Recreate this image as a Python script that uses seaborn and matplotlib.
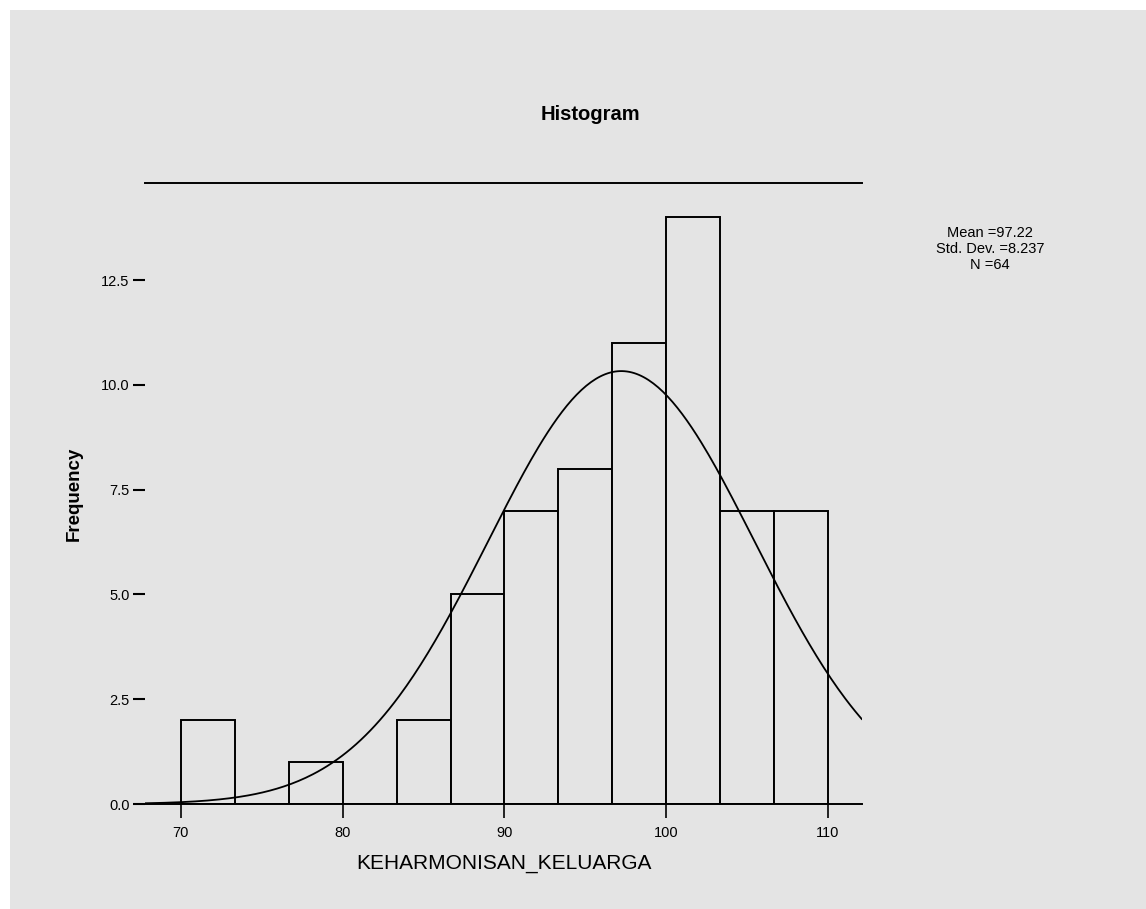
import numpy as np
import pandas as pd
import matplotlib
matplotlib.use('Agg')
import matplotlib.pyplot as plt
import seaborn as sns
from matplotlib.patches import Rectangle

# histogram of KEHARMONISAN_KELUARGA (SPSS output)
bin_edges = [70.0, 73.333, 76.667, 80.0, 83.333, 86.667, 90.0,
             93.333, 96.667, 100.0, 103.333, 106.667, 110.0]
counts = [2, 0, 1, 0, 2, 5, 7, 8, 11, 14, 7, 7]
mean_val = 97.22
std_val = 8.237
n_val = 64
x_ticks = [70, 80, 90, 100, 110]
y_ticks = [0.0, 2.5, 5.0, 7.5, 10.0, 12.5]

bg = '#e4e4e4'

def main():
    centers = [(a + b) / 2 for a, b in zip(bin_edges[:-1], bin_edges[1:])]
    df = pd.DataFrame({'value': centers, 'count': counts})

    sns.set_style('white')
    plt.rcParams['font.family'] = ['Liberation Sans', 'DejaVu Sans']
    plt.rcParams['text.color'] = 'black'
    plt.rcParams['axes.labelcolor'] = 'black'
    plt.rcParams['xtick.color'] = 'black'
    plt.rcParams['ytick.color'] = 'black'

    fig = plt.figure(figsize=(11.46, 9.09), dpi=100)
    fig.patch.set_facecolor(bg)
    # thin white strips at the top and left edge
    fig.patches.append(Rectangle((0, 1 - 10 / 909), 1, 10 / 909, transform=fig.transFigure,
                                 facecolor='white', edgecolor='none', zorder=-5))
    fig.patches.append(Rectangle((0, 0), 10 / 1146, 1, transform=fig.transFigure,
                                 facecolor='white', edgecolor='none', zorder=-5))

    ax = fig.add_axes([145 / 1146, 1 - 804 / 909, (862 - 145) / 1146, (804 - 183) / 909])
    ax.set_facecolor(bg)

    sns.histplot(data=df, x='value', weights='count', bins=bin_edges, ax=ax,
                 color=bg, edgecolor='black', linewidth=1.4, alpha=1)

    xmin, xmax = 67.78, 112.1
    xs = np.linspace(xmin, xmax, 300)
    width = bin_edges[1] - bin_edges[0]
    ys = n_val * width * np.exp(-0.5 * ((xs - mean_val) / std_val) ** 2) / (std_val * np.sqrt(2 * np.pi))
    sns.lineplot(x=xs, y=ys, ax=ax, color='black', linewidth=1.3)

    ax.set_xlim(xmin, xmax)
    ax.set_ylim(0, 14.82)
    ax.set_xticks(x_ticks)
    ax.set_xticklabels([str(t) for t in x_ticks], fontsize=10.5)
    ax.set_yticks(y_ticks)
    ax.set_yticklabels(['%.1f' % t for t in y_ticks], fontsize=10.5)
    ax.tick_params(axis='x', direction='out', length=10, width=1.2, pad=6, bottom=True)
    ax.tick_params(axis='y', direction='out', length=9, width=1.5, pad=2, left=True)

    for s in ['left', 'right']:
        ax.spines[s].set_visible(False)
    for s in ['top', 'bottom']:
        ax.spines[s].set_linewidth(1.4)
        ax.spines[s].set_color('black')

    ax.set_xlabel('KEHARMONISAN_KELUARGA', fontsize=15, labelpad=10)
    ax.set_ylabel('Frequency', fontsize=13.5, fontweight='bold', labelpad=13)

    fig.text(590 / 1146, 1 - 115 / 909, 'Histogram', fontsize=14.5, fontweight='bold',
             ha='center', va='center')
    fig.text(990 / 1146, 1 - 249 / 909, 'Mean =97.22\nStd. Dev. =8.237\nN =64',
             fontsize=10.5, ha='center', va='center', linespacing=1.15)

    fig.savefig('out.png', dpi=100, facecolor=fig.get_facecolor())

if __name__ == "__main__":
    main()
